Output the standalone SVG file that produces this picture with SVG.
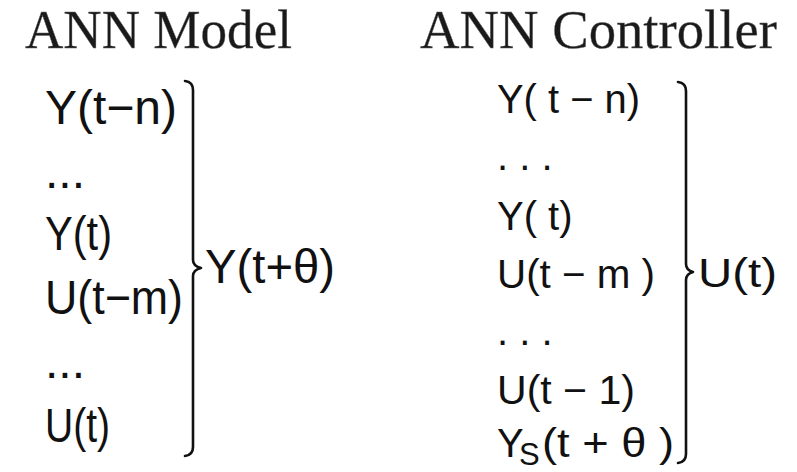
<svg xmlns="http://www.w3.org/2000/svg" width="797" height="472" viewBox="0 0 797 472">
<style>
.title{font-family:"Liberation Serif","Times New Roman",serif;font-size:54px;fill:#1a1a1a;stroke:#666;stroke-width:0.4}
.l{font-family:"Liberation Sans",Arial,sans-serif;font-size:48px;fill:#111}
.r{font-family:"Liberation Sans",Arial,sans-serif;font-size:40px;fill:#111}
.sub{font-size:31px}
.br{fill:none;stroke:#111;stroke-width:2.6;stroke-linecap:round;stroke-linejoin:round}
</style>
<rect width="797" height="472" fill="#fff"/>
<g id="title-model"><text class="title" x="25" y="48" textLength="267" lengthAdjust="spacingAndGlyphs">ANN Model</text></g>
<g id="title-controller"><text class="title" x="420" y="48" textLength="357" lengthAdjust="spacingAndGlyphs">ANN Controller</text></g>
<g id="model-inputs">
<text class="l" x="45" y="124" textLength="132" lengthAdjust="spacingAndGlyphs">Y(t−n)</text>
<text class="l" x="45" y="188">...</text>
<text class="l" x="45" y="250" textLength="67" lengthAdjust="spacingAndGlyphs">Y(t)</text>
<text class="l" x="45" y="314" textLength="138" lengthAdjust="spacingAndGlyphs">U(t−m)</text>
<text class="l" x="45" y="378">...</text>
<text class="l" x="45" y="442" textLength="65" lengthAdjust="spacingAndGlyphs">U(t)</text>
</g>
<g id="model-output"><text class="l" x="205" y="283" textLength="130" lengthAdjust="spacingAndGlyphs">Y(t+θ)</text></g>
<g id="controller-inputs">
<text class="r" x="497" y="113" textLength="143" lengthAdjust="spacingAndGlyphs">Y( t − n)</text>
<text class="r" x="497" y="170">. . .</text>
<text class="r" x="497" y="230">Y( t)</text>
<text class="r" x="497" y="288" textLength="158" lengthAdjust="spacingAndGlyphs">U(t − m )</text>
<text class="r" x="497" y="345">. . .</text>
<text class="r" x="497" y="404" textLength="138" lengthAdjust="spacingAndGlyphs">U(t − 1)</text>
<text class="r" x="497" y="457">Y<tspan class="sub" x="519" dy="8">S</tspan><tspan x="542" dy="-8" textLength="132" lengthAdjust="spacingAndGlyphs">(t + θ )</tspan></text>
</g>
<g id="controller-output"><text class="r" x="698" y="287" textLength="79" lengthAdjust="spacingAndGlyphs">U(t)</text></g>
<g id="connectors">
<path class="br" d="M185,81 Q193,82 193,90 L193,260 Q193,266 201,268 Q193,270 193,276 L193,447 Q193,455 185,456"/>
<path class="br" d="M678,82 Q686,83 686,91 L686,264 Q686,270 693,272 Q686,274 686,280 L686,454 Q686,462 678,463"/>
</g>
</svg>
